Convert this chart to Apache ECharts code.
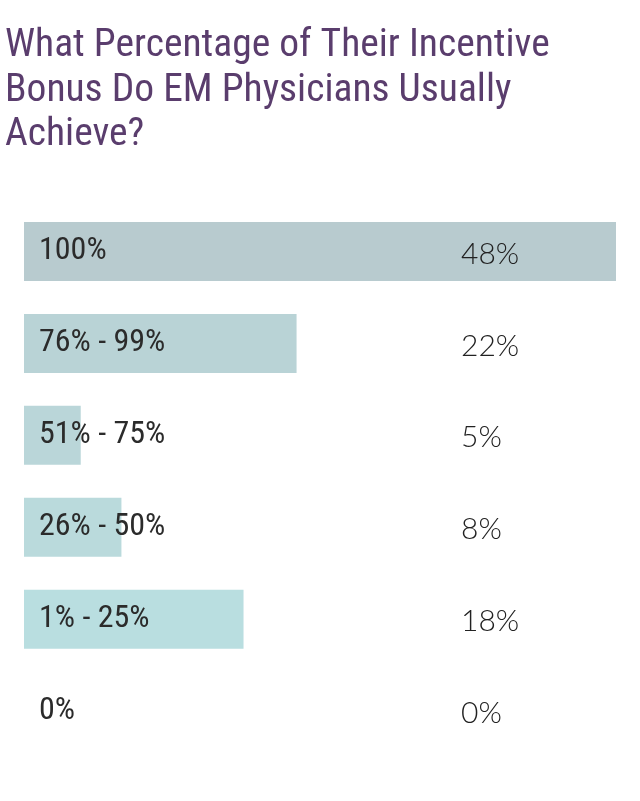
<!DOCTYPE html>
<html>
<head>
<meta charset="utf-8">
<script src="https://cdn.jsdelivr.net/npm/echarts@6/dist/echarts.min.js"></script>
<style>
html, body { margin: 0; padding: 0; background: #fff; }
#chart { width: 640px; height: 801px; }
</style>
</head>
<body>
<div id="chart"></div>
<script>
// data (bar lengths; labels show them rounded)
var categories = ['100%', '76% - 99%', '51% - 75%', '26% - 50%', '1% - 25%', '0%'];
var shares = [48, 22.1, 4.6, 7.9, 17.8, 0];

// bar tints, grey-teal at the top fading to teal
var barColors = ['#b8cbcf', '#b9d3d6', '#bad6d9', '#badadc', '#b9dee0', '#b9dee0'];
var condensed = '"Roboto Condensed", "Liberation Sans Narrow", "DejaVu Sans Condensed", Roboto, sans-serif';

var chart = echarts.init(document.getElementById('chart'));
var option = {
    title: {
        text: 'What Percentage of Their Incentive\nBonus Do EM Physicians Usually\nAchieve?',
        left: 0,
        top: 19,
        textStyle: {
            fontFamily: condensed,
            fontSize: 39.5,
            fontWeight: 'normal',
            color: '#5a3d6d',
            lineHeight: 44.5
        }
    },
    grid: { left: 24, right: 24, top: 205.5, height: 551.5 },
    xAxis: { type: 'value', min: 0, max: 48, show: false },
    yAxis: {
        type: 'category',
        data: categories,
        inverse: true,
        z: 10,
        axisLine: { show: false },
        axisTick: { show: false },
        splitLine: { show: false },
        axisLabel: {
            inside: true,
            margin: 15,
            fontFamily: condensed,
            fontSize: 32,
            color: '#2b2b2b'
        }
    },
    series: [{
        type: 'bar',
        barWidth: 59,
        silent: true,
        data: shares.map(function (v, i) {
            return { value: v, itemStyle: { color: barColors[i] } };
        }),
        label: {
            show: true,
            position: [437, '50%'],
            offset: [0, 2.5],
            verticalAlign: 'middle',
            formatter: function (p) { return Math.round(p.value) + '%'; },
            fontFamily: 'Lato',
            fontWeight: 300,
            fontSize: 30,
            color: '#222'
        }
    }]
};
chart.setOption(option);
</script>
</body>
</html>
